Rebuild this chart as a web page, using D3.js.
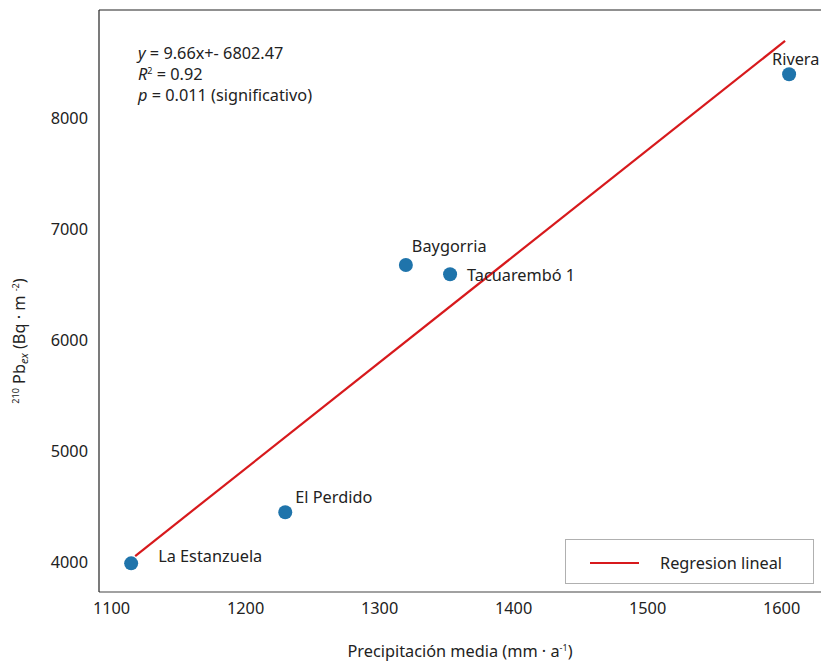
<!DOCTYPE html>
<html>
<head>
<meta charset="utf-8">
<script src="https://cdn.jsdelivr.net/npm/d3@7"></script>
<style>
  html, body { margin: 0; padding: 0; background: #fff; }
  svg { display: block; font-family: "Noto Sans", "Open Sans", sans-serif; }
</style>
</head>
<body>
<svg id="chart" width="821" height="663"></svg>
<script>
// ---- data ----
const sites = ["La Estanzuela", "El Perdido", "Baygorria", "Tacuarembó 1", "Rivera"];
const precipitation = [1115, 1230, 1320, 1353, 1606];
const pb210 = [3988, 4448, 6676, 6592, 8394];
const regX = [1118, 1603];
const regY = [4054, 8694];
const xTicks = [1100, 1200, 1300, 1400, 1500, 1600];
const yTicks = [4000, 5000, 6000, 7000, 8000];

// ---- layout ----
const W = 821, H = 663;
const FS = 16.3;
const plot = { left: 99, right: 821, top: 10, bottom: 592 };

const x = d3.scaleLinear().domain([1091, 1629.8]).range([plot.left, plot.right]);
const y = d3.scaleLinear().domain([3730, 8973]).range([plot.bottom, plot.top]);

const svg = d3.select("#chart");

svg.append("defs").append("clipPath").attr("id", "clip")
  .append("rect").attr("x", plot.left).attr("y", plot.top)
  .attr("width", plot.right - plot.left + 5).attr("height", plot.bottom - plot.top);

// axes (no tick marks)
const xAxis = svg.append("g").attr("transform", `translate(0,${plot.bottom})`)
  .call(d3.axisBottom(x).tickValues(xTicks).tickSize(0).tickPadding(10).tickFormat(d3.format("d")));
const yAxis = svg.append("g").attr("transform", `translate(${plot.left},0)`)
  .call(d3.axisLeft(y).tickValues(yTicks).tickSize(0).tickPadding(11).tickFormat(d3.format("d")));
[xAxis, yAxis].forEach(g => {
  g.select(".domain").remove();
  g.selectAll("text").attr("font-size", FS).attr("fill", "#222")
    .attr("font-family", "'Noto Sans', sans-serif");
});
xAxis.selectAll("text").attr("dy", "0.71em");

// spines
svg.append("line").attr("x1", plot.left).attr("x2", W).attr("y1", plot.top).attr("y2", plot.top)
  .attr("stroke", "#222").attr("stroke-width", 1.2);
svg.append("line").attr("x1", plot.left).attr("x2", W).attr("y1", plot.bottom).attr("y2", plot.bottom)
  .attr("stroke", "#444").attr("stroke-width", 1.2);
svg.append("line").attr("x1", plot.left).attr("x2", plot.left).attr("y1", plot.top).attr("y2", plot.bottom)
  .attr("stroke", "#222").attr("stroke-width", 1.2);

const content = svg.append("g").attr("clip-path", "url(#clip)");

// points
const pts = sites.map((s, i) => ({ s, px: precipitation[i], pb: pb210[i] }));
content.selectAll("circle").data(pts).join("circle")
  .attr("cx", d => x(d.px)).attr("cy", d => y(d.pb)).attr("r", 7)
  .attr("fill", "#1f74ab");

// regression line
const reg = regX.map((v, i) => [v, regY[i]]);
content.append("path").datum(reg)
  .attr("d", d3.line().x(d => x(d[0])).y(d => y(d[1])))
  .attr("stroke", "#d7191c").attr("stroke-width", 2.2).attr("fill", "none");

// point labels (pixel offsets from each point)
const labelOffsets = [[27, -1], [10, -9], [6, -13], [17, 7], [-17, -9]];
svg.selectAll("text.lbl").data(pts).join("text").attr("class", "lbl")
  .attr("x", (d, i) => x(d.px) + labelOffsets[i][0])
  .attr("y", (d, i) => y(d.pb) + labelOffsets[i][1])
  .attr("font-size", FS).attr("fill", "#222")
  .text(d => d.s);

// annotation
const ann = svg.append("g").attr("font-size", FS).attr("fill", "#222");
const t1 = ann.append("text").attr("x", 138).attr("y", 59);
t1.append("tspan").attr("font-style", "italic").text("y");
t1.append("tspan").text(" = 9.66x+- 6802.47");
const t2 = ann.append("text").attr("x", 138).attr("y", 80);
t2.append("tspan").attr("font-style", "italic").text("R");
t2.append("tspan").attr("font-size", 9).attr("dy", -6).text("2");
t2.append("tspan").attr("dy", 6).text(" = 0.92");
const t3 = ann.append("text").attr("x", 138).attr("y", 101);
t3.append("tspan").attr("font-style", "italic").text("p");
t3.append("tspan").text(" = 0.011 (significativo)");

// legend
const lg = svg.append("g");
lg.append("rect").attr("x", 565.5).attr("y", 539.5).attr("width", 248).attr("height", 44)
  .attr("fill", "#fff").attr("stroke", "#b0b0b0").attr("stroke-width", 1);
lg.append("line").attr("x1", 590).attr("x2", 639).attr("y1", 563).attr("y2", 563)
  .attr("stroke", "#d7191c").attr("stroke-width", 2.2);
lg.append("text").attr("x", 660).attr("y", 568.5).attr("font-size", FS).attr("fill", "#222")
  .text("Regresion lineal");

// x axis label
const xl = svg.append("text").attr("x", (plot.left + plot.right) / 2).attr("y", 657)
  .attr("text-anchor", "middle").attr("font-size", FS).attr("fill", "#222");
xl.append("tspan").text("Precipitación media (mm · a");
xl.append("tspan").attr("font-size", 9).attr("dy", -6).text("-1");
xl.append("tspan").attr("dy", 6).text(")");

// y axis label
const yl = svg.append("text").attr("transform", "translate(25,341) rotate(-90)")
  .attr("text-anchor", "middle").attr("font-size", FS).attr("fill", "#222");
yl.append("tspan").attr("font-size", 9).attr("dy", -6).text("210");
yl.append("tspan").attr("dy", 6).text(" Pb");
yl.append("tspan").attr("font-size", 11).attr("font-style", "italic").attr("dy", 3).text("ex");
yl.append("tspan").attr("dy", -3).text(" (Bq · m ");
yl.append("tspan").attr("font-size", 9).attr("dy", -6).text("-2");
yl.append("tspan").attr("dy", 6).text(")");
</script>
</body>
</html>
